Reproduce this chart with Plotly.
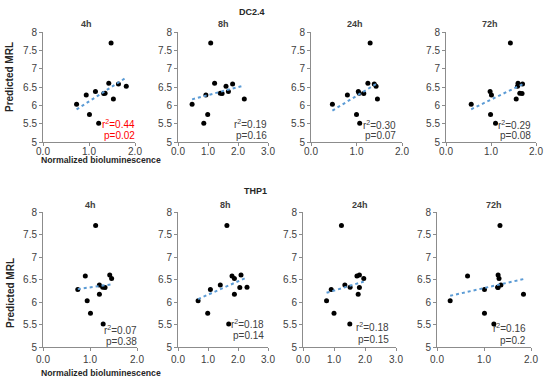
import numpy as np
import plotly.graph_objects as go

W, H = 550, 382

# ---------------- data ----------------
group_titles = ["DC2.4", "THP1"]
time_labels = ["4h", "8h", "24h", "72h"]

dc_4h_x = [0.73, 0.94, 1.14, 1.01, 1.21, 1.32, 1.35, 1.43, 1.48, 1.53, 1.64, 1.81]
dc_4h_y = [6.03, 6.28, 6.38, 5.75, 5.51, 6.32, 6.33, 6.60, 7.70, 6.17, 6.58, 6.52]
dc_8h_x = [0.47, 0.86, 1.09, 0.93, 0.99, 1.22, 1.41, 1.47, 1.60, 1.68, 1.82, 2.21]
dc_8h_y = [6.03, 5.51, 7.70, 6.28, 5.75, 6.60, 6.33, 6.32, 6.52, 6.38, 6.58, 6.17]
dc_24h_x = [0.47, 0.80, 1.00, 1.07, 1.04, 1.06, 1.16, 1.25, 1.30, 1.39, 1.43, 1.46]
dc_24h_y = [6.03, 6.28, 5.75, 5.51, 6.38, 6.33, 6.32, 6.60, 7.70, 6.58, 6.52, 6.17]
dc_72h_x = [0.56, 0.98, 1.01, 0.99, 1.10, 1.43, 1.56, 1.59, 1.60, 1.64, 1.69, 1.70]
dc_72h_y = [6.03, 6.38, 6.28, 5.75, 5.51, 7.70, 6.17, 6.52, 6.60, 6.33, 6.32, 6.58]

thp_4h_x = [0.74, 0.90, 0.94, 1.01, 1.12, 1.20, 1.20, 1.28, 1.27, 1.32, 1.42, 1.46]
thp_4h_y = [6.28, 6.58, 6.03, 5.75, 7.70, 6.38, 6.17, 5.51, 6.33, 6.32, 6.60, 6.52]
thp_8h_x = [0.67, 0.99, 1.08, 1.41, 1.63, 1.69, 1.80, 1.88, 1.88, 2.06, 2.10, 2.30]
thp_8h_y = [6.03, 5.75, 6.28, 6.38, 7.70, 5.51, 6.58, 6.52, 6.17, 6.32, 6.60, 6.33]
thp_24h_x = [0.76, 0.91, 1.00, 1.24, 1.35, 1.51, 1.52, 1.74, 1.82, 1.82, 1.78, 1.96]
thp_24h_y = [6.03, 6.28, 5.75, 7.70, 6.38, 5.51, 6.33, 6.58, 6.60, 6.32, 6.17, 6.52]
thp_72h_x = [0.28, 0.65, 1.01, 1.01, 1.21, 1.30, 1.32, 1.29, 1.30, 1.36, 1.34, 1.84]
thp_72h_y = [6.03, 6.58, 6.28, 5.75, 5.51, 6.60, 6.52, 6.33, 6.32, 6.38, 7.70, 6.17]

r2_labels = ["0.44", "0.19", "0.30", "0.29", "0.07", "0.18", "0.18", "0.16"]
p_labels = ["0.02", "0.16", "0.07", "0.08", "0.38", "0.14", "0.15", "0.2"]
x_max = [2, 3, 2, 2, 2, 3, 3, 2]
y_ticks = [5, 5.5, 6, 6.5, 7, 7.5, 8]

panels_x = [dc_4h_x, dc_8h_x, dc_24h_x, dc_72h_x, thp_4h_x, thp_8h_x, thp_24h_x, thp_72h_x]
panels_y = [dc_4h_y, dc_8h_y, dc_24h_y, dc_72h_y, thp_4h_y, thp_8h_y, thp_24h_y, thp_72h_y]

# ---------------- layout geometry (pixels) ----------------
plot_px = [  # left, right, top, bottom
    (43, 135, 32, 142), (178, 268, 32, 142), (311, 402, 32, 142), (446, 536, 32, 142),
    (43, 137, 212, 347), (178, 268, 212, 347), (303, 396, 212, 347), (437, 531, 212, 347),
]
ann_px = [  # right edge x, r2 y, p y
    (137, 124, 135), (269, 124, 135), (398, 125, 136), (533, 125, 136),
    (139, 330, 341), (266, 324, 335), (391, 327, 339), (528, 328, 340),
]
sub_px = [(86, 24), (223, 24), (355, 24), (490, 24), (90, 205), (225, 205), (360, 205), (494, 205)]


def px(x):
    return x / W


def py(y):
    return 1 - y / H


FONT = "Liberation Sans, Arial, sans-serif"
TXT = "#404040"
AX = "#8c8c8c"

fig = go.Figure()
annotations = []
layout = {}

for i in range(8):
    xs = np.array(panels_x[i])
    ys = np.array(panels_y[i])
    n = i + 1
    xa = "x" if n == 1 else f"x{n}"
    ya = "y" if n == 1 else f"y{n}"
    fig.add_trace(go.Scatter(x=xs, y=ys, mode="markers", xaxis=xa, yaxis=ya,
                             marker=dict(color="black", size=5), showlegend=False,
                             hoverinfo="skip"))
    slope, icpt = np.polyfit(xs, ys, 1)
    lx = np.array([xs.min(), xs.max()])
    fig.add_trace(go.Scatter(x=lx, y=slope * lx + icpt, mode="lines", xaxis=xa, yaxis=ya,
                             line=dict(color="#5B9BD5", width=2, dash="dot"),
                             showlegend=False, hoverinfo="skip"))
    l, r, t, b = plot_px[i]
    xk = "xaxis" if n == 1 else f"xaxis{n}"
    yk = "yaxis" if n == 1 else f"yaxis{n}"
    layout[xk] = dict(domain=[px(l), px(r)], range=[0, x_max[i]], anchor=ya,
                      dtick=1, tickformat=".1f", showgrid=False, zeroline=False,
                      showline=True, linecolor=AX, linewidth=1, ticks="outside",
                      ticklen=3, tickcolor=AX, automargin=False,
                      ticklabelstandoff=-3 if i < 4 else 0,
                      tickfont=dict(family=FONT, size=10, color=TXT))
    layout[yk] = dict(domain=[py(b), py(t)], range=[5, 8], anchor=xa,
                      tickvals=y_ticks, showgrid=False, zeroline=False,
                      showline=True, linecolor=AX, linewidth=1, ticks="outside",
                      ticklen=3, tickcolor=AX, automargin=False,
                      tickfont=dict(family=FONT, size=10, color=TXT))
    col = "#FF0000" if i == 0 else TXT
    ax_r, y_r2, y_p = ann_px[i]
    annotations.append(dict(text=f"r<sup>2</sup>={r2_labels[i]}", x=px(ax_r), y=py(y_r2),
                            xref="paper", yref="paper", xanchor="right", yanchor="middle",
                            showarrow=False, font=dict(family=FONT, size=10, color=col)))
    annotations.append(dict(text=f"p={p_labels[i]}", x=px(ax_r), y=py(y_p),
                            xref="paper", yref="paper", xanchor="right", yanchor="middle",
                            showarrow=False, font=dict(family=FONT, size=10, color=col)))
    sx, sy = sub_px[i]
    annotations.append(dict(text=f"<b>{time_labels[i % 4]}</b>", x=px(sx), y=py(sy),
                            xref="paper", yref="paper", xanchor="center", yanchor="middle",
                            showarrow=False, font=dict(family=FONT, size=9, color=TXT)))

for title, (tx, ty) in zip(group_titles, [(252, 12), (255, 191)]):
    annotations.append(dict(text=f"<b>{title}</b>", x=px(tx), y=py(ty), xref="paper",
                            yref="paper", xanchor="center", yanchor="middle", showarrow=False,
                            font=dict(family=FONT, size=9, color="#262626")))

for cy in (77, 293):
    annotations.append(dict(text="<b>Predicted MRL</b>", x=px(10), y=py(cy), xref="paper",
                            yref="paper", xanchor="center", yanchor="middle", textangle=-90,
                            showarrow=False, font=dict(family=FONT, size=10, color="#262626")))
for cy in (160, 373):
    annotations.append(dict(text="<b>Normalized bioluminescence</b>", x=px(101), y=py(cy),
                            xref="paper", yref="paper", xanchor="center", yanchor="middle",
                            showarrow=False, font=dict(family=FONT, size=8.7, color="#262626")))

fig.update_layout(width=W, height=H, margin=dict(l=0, r=0, t=0, b=0, autoexpand=False),
                  paper_bgcolor="white", plot_bgcolor="white",
                  annotations=annotations, **layout)

fig.write_html("out.html", config={"displayModeBar": False},
               post_script="document.body.style.margin='0';document.body.style.overflow='hidden';")
